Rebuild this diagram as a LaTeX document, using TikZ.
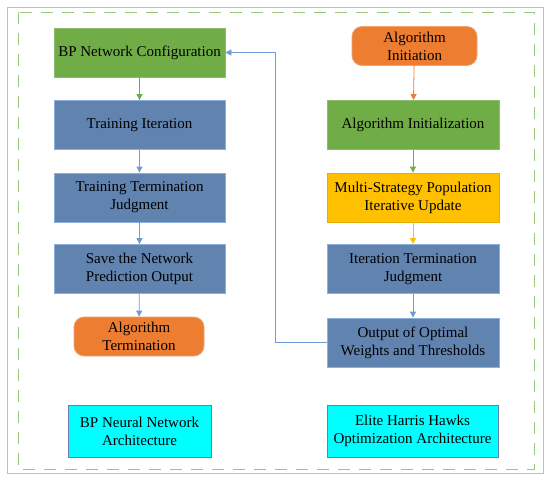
\documentclass[tikz,border=0pt]{standalone}
\usepackage{fontspec}
\setmainfont{Liberation Serif}
\usetikzlibrary{arrows.meta}

\definecolor{cfggreen}{HTML}{70AD47}
\definecolor{stepblue}{HTML}{6183B0}
\definecolor{termorange}{HTML}{ED7D31}
\definecolor{updyellow}{HTML}{FFC000}
\definecolor{archcyan}{HTML}{00FFFF}
\definecolor{linkblue}{HTML}{6F9BD6}

\begin{document}
\begin{tikzpicture}[x=1pt, y=-1pt,
    box/.style={draw, minimum width=171pt, minimum height=49pt, align=center,
        font=\fontsize{15}{18}\selectfont, inner sep=2pt, line width=0.8pt},
    greenbox/.style={box, fill=cfggreen, draw=cfggreen!80!white},
    bluebox/.style={box, fill=stepblue, draw=linkblue!80!white},
    yellowbox/.style={box, fill=updyellow, draw=updyellow!90!black},
    endbox/.style={box, fill=termorange, draw=termorange!70!white, rounded corners=10pt,
        minimum height=39pt},
    archbox/.style={box, fill=archcyan, draw=stepblue, minimum height=52pt},
    link/.style={-{Triangle[width=6pt,length=6pt]}, line width=0.8pt}]
    \useasboundingbox (0, 0) rectangle (550, 480);
    \fill[white] (0, 0) rectangle (550, 480);
    \draw[black!25, line width=1pt] (7, 7) rectangle (543, 473);
    \draw[cfggreen!70!white, line width=1pt, dash pattern=on 12pt off 9pt] (18, 12) rectangle (534, 469);

    % left column
    \node[greenbox] (cfg) at (139.5, 52.5) {BP Network Configuration};
    \node[bluebox] (train) at (139.5, 125) {Training Iteration};
    \node[bluebox] (judge) at (139.5, 197.5) {Training Termination\\Judgment};
    \node[bluebox] (save) at (139.5, 269) {Save the Network\\Prediction Output};
    \node[endbox, minimum width=130pt] (stop) at (139, 336.5) {Algorithm\\Termination};
    \node[archbox, minimum width=143pt] (bparch) at (139.5, 431) {BP Neural Network\\Architecture};

    % right column
    \node[endbox, minimum width=125pt] (start) at (414.5, 46) {Algorithm\\Initiation};
    \node[greenbox, minimum width=172pt] (init) at (413, 125) {Algorithm Initialization};
    \node[yellowbox, minimum width=172pt] (update) at (413, 197.5) {Multi-Strategy Population\\Iterative Update};
    \node[bluebox, minimum width=172pt] (iterjudge) at (413, 269) {Iteration Termination\\Judgment};
    \node[bluebox, minimum width=172pt] (best) at (413, 342.5) {Output of Optimal\\Weights and Thresholds};
    \node[archbox, minimum width=171pt] (ehharch) at (412.5, 431) {Elite Harris Hawks\\Optimization Architecture};

    \coordinate (turnlow) at (275, 342.5);
    \coordinate (turnhigh) at (275, 52.5);

    \draw[link, cfggreen] (cfg) -- (train);
    \draw[link, linkblue] (train) -- (judge);
    \draw[link, linkblue] (judge) -- (save);
    \draw[link, linkblue] (save) -- (stop);

    \draw[link, termorange] (start) -- (init);
    \draw[link, cfggreen] (init) -- (update);
    \draw[link, updyellow] (update) -- (iterjudge);
    \draw[link, linkblue] (iterjudge) -- (best);

    \draw[link, linkblue] (best.west) -- (turnlow) -- (turnhigh) -- (cfg.east);
\end{tikzpicture}
\end{document}
